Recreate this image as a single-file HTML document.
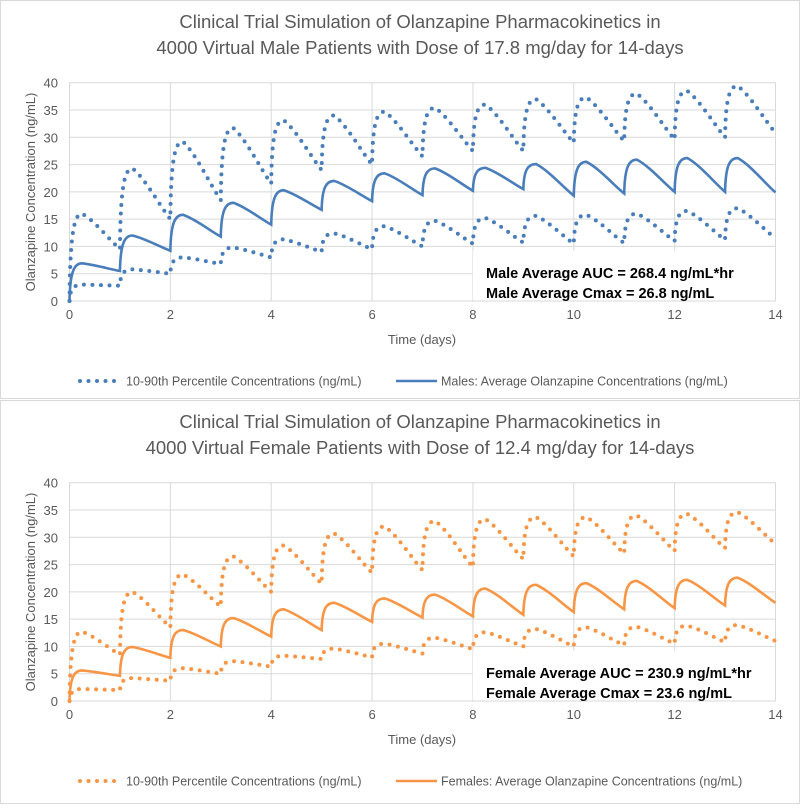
<!DOCTYPE html>
<html><head><meta charset="utf-8"><style>
html,body{margin:0;padding:0;background:#fff;}
body{width:800px;height:804px;overflow:hidden;font-family:"Liberation Sans",sans-serif;}
svg text{font-family:"Liberation Sans",sans-serif;}
</style></head><body>
<svg id="root" width="800" height="804" viewBox="0 0 800 804" xmlns="http://www.w3.org/2000/svg">
<rect x="0" y="0" width="800" height="804" fill="#fff"/>
</svg>
<script>
// ---- Data (per-day peaks and day-boundary troughs) ----
const days = [0,1,2,3,4,5,6,7,8,9,10,11,12,13,14];
const yTicks = [0,5,10,15,20,25,30,35,40];
const xTicks = [0,2,4,6,8,10,12,14];
const malePeaks   = [6.9,12,15.8,18,20.3,22,23.4,24.3,24.4,25.1,25.5,25.9,26.2,26.2];
const maleTroughs = [0,5.5,9.2,11.8,14,16.7,18.3,19.4,20.2,20.5,19.3,19.7,20,20,19.9];
const maleP90Peaks   = [16,24.3,29.2,31.7,33.1,34,34.7,35.4,36,37,37.3,38,38.5,39.4];
const maleP90Troughs = [0,9.5,15,18.5,21.5,24,25,26.5,27.5,27.5,29,29.3,29.6,30,30.8];
const maleP10Peaks   = [3,5.8,8,9.8,11.3,12.4,13.7,14.7,15.2,15.6,15.8,16,16.5,17];
const maleP10Troughs = [0,2.8,5,6.8,8,9,9.5,10,10.5,10.7,10.5,10.6,11,11.2,11.5];
const femalePeaks   = [5.6,9.9,13,15.2,16.8,18,18.8,19.5,20.6,21.3,21.6,22,22.2,22.6];
const femaleTroughs = [0,4.6,7.9,10,11.8,13,14.5,15.3,15.5,15.8,16.3,16.8,17,17.5,18];
const femaleP90Peaks   = [12.7,20,23.2,26.5,28.5,30.7,32,33,33.3,33.7,33.7,34,34.3,34.6];
const femaleP90Troughs = [0,8.5,13.5,17.3,20,21.5,23.5,24,24.5,26,26.5,27,27.5,28,28.8];
const femaleP10Peaks   = [2.2,4.2,6,7.3,8.3,9.6,10.5,11.6,12.6,13.2,13.5,13.6,13.8,13.9];
const femaleP10Troughs = [0,2,3.7,5,6.3,7.7,8,8.7,9.5,10,10,10.2,10.5,10.8,11];

const NS="http://www.w3.org/2000/svg";
const root=document.getElementById('root');
function mk(tag,attrs,parent){const e=document.createElementNS(NS,tag);for(const k in attrs)e.setAttribute(k,attrs[k]);(parent||root).appendChild(e);return e;}

function seriesPath(xf,yf,peaks,troughs){
  let d='M'+xf(0)+','+yf(troughs[0]);
  for(let i=0;i<peaks.length;i++){
    const P=peaks[i],T=troughs[i],N=troughs[i+1];
    d+=' C'+xf(i+0.01)+','+yf(T+(P-T)*0.8)+' '+xf(i+0.1)+','+yf(P)+' '+xf(i+0.25)+','+yf(P);
    d+=' C'+xf(i+0.5)+','+yf(P-(P-N)*0.2)+' '+xf(i+0.8)+','+yf(N+(P-N)*0.25)+' '+xf(i+1)+','+yf(N);
  }
  return d;
}

function drawChart(cfg){
  const g=mk('g',{});
  
  
  const frame=mk('rect',{x:0.5,y:cfg.top+0.5,width:799,height:cfg.h,fill:'#fff',stroke:'#d9d9d9'},g);
  
  
  const x0=69.5,x1=775.5,yT=cfg.top+82.7,yB=cfg.top+301;
  const xf=v=>x0+(x1-x0)*v/14;
  const yf=v=>yB-(yB-yT)*v/40;
  cfg.titles.forEach((t,i)=>{
    const tt=mk('text',{x:420,y:cfg.top+28+i*26,'text-anchor':'middle','font-size':'18.5',fill:'#595959'},g);
    tt.textContent=t;
    
    
  });
  yTicks.forEach(v=>{
    const l=mk('line',{x1:x0,x2:x1,y1:yf(v),y2:yf(v),stroke:'#d9d9d9','stroke-width':1},g);
    
    
    const t=mk('text',{x:58,y:yf(v)+5,'text-anchor':'end','font-size':'13',fill:'#595959'},g);
    t.textContent=v;
    
    
  });
  xTicks.forEach(v=>{
    const l=mk('line',{x1:xf(v),x2:xf(v),y1:yT,y2:yB,stroke:'#d9d9d9','stroke-width':1},g);
    
    
    const t=mk('text',{x:xf(v),y:yB+18,'text-anchor':'middle','font-size':'13',fill:'#595959'},g);
    t.textContent=v;
    
    
  });
  const xt=mk('text',{x:422,y:cfg.top+344,'text-anchor':'middle','font-size':'13',fill:'#595959'},g);
  xt.textContent='Time (days)';
  
  
  const yt=mk('text',{x:0,y:0,'text-anchor':'middle','font-size':'13',fill:'#595959',transform:'translate(35,'+(cfg.top+192)+') rotate(-90)'},g);
  yt.textContent='Olanzapine Concentration (ng/mL)';
  
  
  // annotation box
  const ab=mk('rect',{x:473,y:cfg.top+251,width:302,height:49,fill:'#fff'},g);
  
  
  cfg.notes.forEach((n,i)=>{
    const t=mk('text',{x:486,y:cfg.top+278+i*20,'font-size':'14.5','font-weight':'bold',fill:'#000'},g);
    t.textContent=n;
    
    
  });
  // series
  [[cfg.p90P,cfg.p90T,'percentile-90-line'],[cfg.p10P,cfg.p10T,'percentile-10-line']].forEach(s=>{
    const p=mk('path',{d:seriesPath(xf,yf,s[0],s[1]),fill:'none',stroke:cfg.color,'stroke-width':4,'stroke-linecap':'round','stroke-dasharray':'0 8.5'},g);
    
    
  });
  const m=mk('path',{d:seriesPath(xf,yf,cfg.meanP,cfg.meanT),fill:'none',stroke:cfg.color,'stroke-width':2.6},g);
  
  
  // legend
  const ly=cfg.top+381;
  const l1=mk('line',{x1:80,x2:120,y1:ly,y2:ly,stroke:cfg.color,'stroke-width':4,'stroke-linecap':'round','stroke-dasharray':'0 8.5'},g);
  
  
  const lt1=mk('text',{x:126,y:ly+4.5,'font-size':'12.5',fill:'#595959'},g);
  lt1.textContent='10-90th Percentile Concentrations (ng/mL)';
  
  
  const l2=mk('line',{x1:396,x2:437,y1:ly,y2:ly,stroke:cfg.color,'stroke-width':2.6},g);
  
  
  const lt2=mk('text',{x:441,y:ly+4.5,'font-size':'12.5',fill:'#595959'},g);
  lt2.textContent=cfg.legend2;
  
  
}

drawChart({name:'male-chart',top:0,h:398,color:'#4a7ebb',
  titles:['Clinical Trial Simulation of Olanzapine Pharmacokinetics in','4000 Virtual Male Patients with Dose of 17.8 mg/day for 14-days'],
  notes:['Male Average AUC = 268.4 ng/mL*hr','Male Average Cmax = 26.8 ng/mL'],
  meanP:malePeaks,meanT:maleTroughs,p90P:maleP90Peaks,p90T:maleP90Troughs,p10P:maleP10Peaks,p10T:maleP10Troughs,
  legend2:'Males: Average Olanzapine Concentrations (ng/mL)'});
drawChart({name:'female-chart',top:400,h:403,color:'#f79646',
  titles:['Clinical Trial Simulation of Olanzapine Pharmacokinetics in','4000 Virtual Female Patients with Dose of 12.4 mg/day for 14-days'],
  notes:['Female Average AUC = 230.9 ng/mL*hr','Female Average Cmax = 23.6 ng/mL'],
  meanP:femalePeaks,meanT:femaleTroughs,p90P:femaleP90Peaks,p90T:femaleP90Troughs,p10P:femaleP10Peaks,p10T:femaleP10Troughs,
  legend2:'Females: Average Olanzapine Concentrations (ng/mL)'});
</script>
</body></html>
